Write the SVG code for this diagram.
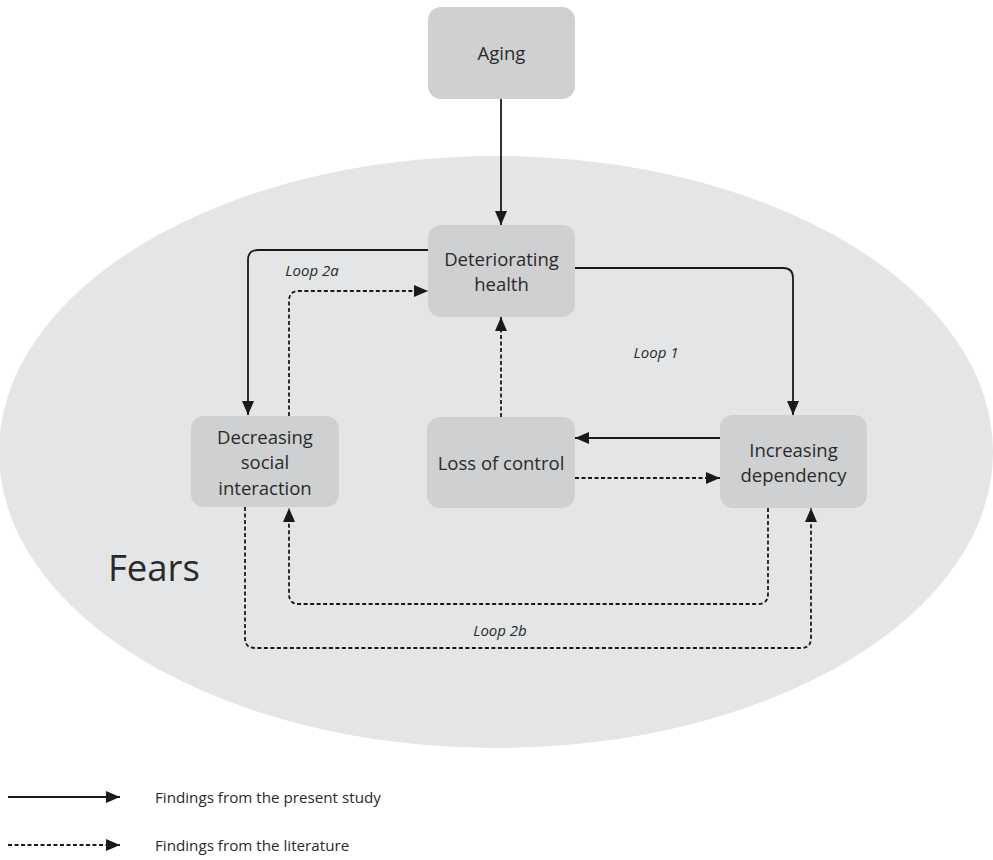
<svg xmlns="http://www.w3.org/2000/svg" width="993" height="860" viewBox="0 0 993 860">
<defs>
<marker id="ah" viewBox="0 0 14 12" markerWidth="14" markerHeight="12" refX="14" refY="6" orient="auto" markerUnits="userSpaceOnUse">
<path d="M0,0 L14,6 L0,12 z" fill="#1a1a1a"/>
</marker>
<style>
.box{fill:#cfd0d1;}
.lbl{font-family:"Open Sans","Noto Sans",sans-serif;font-size:18.5px;fill:#2a2a2a;text-anchor:middle;}
.loop{font-family:"Open Sans","Noto Sans",sans-serif;font-size:15px;font-style:italic;fill:#2a2a2a;text-anchor:middle;}
.leg{font-family:"Open Sans","Noto Sans",sans-serif;font-size:15.2px;fill:#2a2a2a;}
.c{fill:none;stroke:#1a1a1a;stroke-width:1.8;marker-end:url(#ah);}
.d{stroke-dasharray:4 2.5;}
</style>
</defs>
<rect width="993" height="860" fill="#ffffff"/>
<ellipse id="fears-area" cx="496" cy="452" rx="497" ry="296" fill="#e4e5e6"/>
<text x="108" y="581" font-family="Open Sans, Noto Sans, sans-serif" font-size="36.5" fill="#2a2a2a">Fears</text>

<g id="connectors">
<path class="c" d="M501,99 V225"/>
<path class="c" d="M428,250 H258 Q248,250 248,260 V415"/>
<path class="c d" d="M289,416 V301 Q289,291 299,291 H428"/>
<path class="c" d="M575,268 H783 Q793,268 793,278 V415"/>
<path class="c d" d="M501,417 V317"/>
<path class="c" d="M720,438 H575"/>
<path class="c d" d="M575,478 H720"/>
<path class="c d" d="M768,508 V594 Q768,604 758,604 H299 Q289,604 289,594 V508"/>
<path class="c d" d="M245,507 V638 Q245,648 255,648 H801 Q811,648 811,638 V508"/>
</g>

<g id="loop-labels">
<text class="loop" x="312" y="276">Loop 2a</text>
<text class="loop" x="656" y="358">Loop 1</text>
<text class="loop" x="500" y="636">Loop 2b</text>
</g>

<g id="aging"><rect class="box" x="428" y="7" width="147" height="92" rx="13"/><text class="lbl" x="501.5" y="60">Aging</text></g>
<g id="deteriorating-health"><rect class="box" x="428" y="225" width="147" height="92" rx="13"/><text class="lbl" x="501.5" y="266">Deteriorating</text><text class="lbl" x="501.5" y="291">health</text></g>
<g id="decreasing-social-interaction"><rect class="box" x="191" y="416" width="148" height="91" rx="13"/><text class="lbl" x="265" y="444">Decreasing</text><text class="lbl" x="265" y="469">social</text><text class="lbl" x="265" y="495">interaction</text></g>
<g id="loss-of-control"><rect class="box" x="427" y="417" width="148" height="91" rx="13"/><text class="lbl" x="501" y="470">Loss of control</text></g>
<g id="increasing-dependency"><rect class="box" x="720" y="415" width="147" height="93" rx="13"/><text class="lbl" x="793.5" y="457">Increasing</text><text class="lbl" x="793.5" y="482">dependency</text></g>

<g id="legend">
<path class="c" d="M8,797 H120"/>
<text class="leg" x="155" y="803">Findings from the present study</text>
<path class="c d" d="M8,845 H120"/>
<text class="leg" x="155" y="851">Findings from the literature</text>
</g>
</svg>
